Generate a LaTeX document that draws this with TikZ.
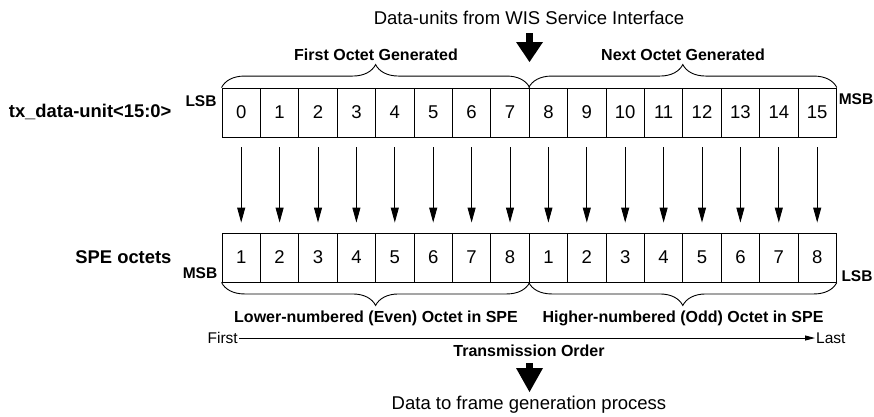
\documentclass[tikz,border=0pt]{standalone}
\usepackage{fontspec}
\setmainfont{Liberation Sans}
\usetikzlibrary{arrows.meta,decorations.pathreplacing}

\begin{document}
\begin{tikzpicture}[x=1pt, y=-1pt,
	cell/.style={draw, line width=0.9pt, minimum width=38.4pt, minimum height=49pt, inner sep=0pt, font=\fontsize{18.5}{21}\selectfont},
	txt/.style={font=\fontsize{18.5}{21}\selectfont},
	lbl/.style={font=\bfseries\fontsize{16}{18}\selectfont},
	rowname/.style={font=\bfseries\fontsize{18.4}{21}\selectfont, anchor=east},
	sb/.style={font=\bfseries\fontsize{15.5}{17}\selectfont},
	ends/.style={font=\fontsize{15.5}{18}\selectfont, inner sep=1pt},
	brc/.style={decorate, decoration={brace, amplitude=23pt}, line width=0.9pt}]
		\useasboundingbox (0, 0) rectangle (874, 416);
		% data-unit and SPE octet cells
		\foreach \i in {0,...,15} {
			\pgfmathtruncatemacro{\n}{mod(\i,8)+1}
			\node[cell] (t\i) at ({222+38.4*(\i+0.5)}, 112.5) {\i};
			\node[cell] (b\i) at ({222+38.4*(\i+0.5)}, 257.5) {\n};
		}
		\foreach \i in {0,...,15}
			\draw[-{Triangle[length=15pt, width=8pt]}, line width=0.9pt, shorten <=10pt, shorten >=10pt] (t\i) -- (b\i);
		% braces
		\draw[brc] (t0.north west) -- (t7.north east);
		\draw[brc] (t8.north west) -- (t15.north east);
		\draw[brc] (b7.south east) -- (b0.south west);
		\draw[brc] (b15.south east) -- (b8.south west);
		\node[lbl] (firstgen) at (376, 55) {First Octet Generated};
		\node[lbl] (nextgen) at (683, 55) {Next Octet Generated};
		\node[lbl] (lowoct) at (376, 318) {Lower-numbered (Even) Octet in SPE};
		\node[lbl] (highoct) at (683, 318) {Higher-numbered (Odd) Octet in SPE};
		% row names
		\node[rowname] (txname) at (175, 112) {tx\_data-unit<15:0>};
		\node[rowname] (spename) at (175, 257) {SPE octets};
		\node[sb] (lsbtop) at (201, 101) {LSB};
		\node[sb] (msbtop) at (856, 99) {MSB};
		\node[sb] (msbbot) at (200, 273) {MSB};
		\node[sb] (lsbbot) at (857, 276) {LSB};
		% in and out
		\node[txt] (source) at (529, 18) {Data-units from WIS Service Interface};
		\fill (526, 33) rectangle (533, 42);
		\fill (516, 42) -- (543, 42) -- (529.5, 62) -- cycle;
		\fill (526, 363) rectangle (533, 368);
		\fill (516, 368) -- (543, 368) -- (529.5, 392) -- cycle;
		\node[txt] (sink) at (529, 405) {Data to frame generation process};
		% transmission order
		\node[ends, anchor=east] (firstend) at (239, 338) {First};
		\node[ends, anchor=west] (lastend) at (815, 338) {Last};
		\draw[-{Triangle[length=10pt, width=5pt]}, line width=0.9pt] (firstend) -- (lastend);
		\node[lbl] (order) at (529, 351) {Transmission Order};
	\end{tikzpicture}
\end{document}
